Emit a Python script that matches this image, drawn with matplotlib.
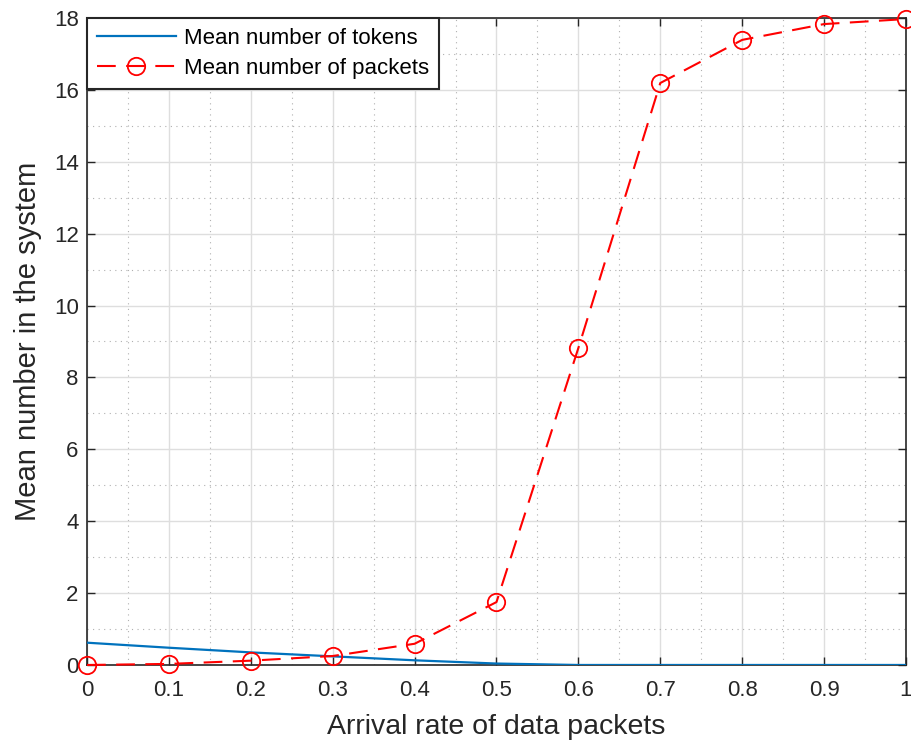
import matplotlib
matplotlib.use("Agg")
import matplotlib.pyplot as plt
from matplotlib.ticker import MultipleLocator

plt.rcParams['font.family'] = ['Liberation Sans', 'DejaVu Sans']

arrival_rate = [0.0, 0.1, 0.2, 0.3, 0.4, 0.5, 0.6, 0.7, 0.8, 0.9, 1.0]
mean_tokens = [0.62, 0.48, 0.35, 0.24, 0.13, 0.04, 0.0, 0.0, 0.0, 0.0, 0.0]
mean_packets = [0.0, 0.03, 0.12, 0.25, 0.59, 1.75, 8.82, 16.19, 17.39, 17.83, 17.97]

x_ticks = [0, 0.1, 0.2, 0.3, 0.4, 0.5, 0.6, 0.7, 0.8, 0.9, 1]
x_tick_labels = ['0', '0.1', '0.2', '0.3', '0.4', '0.5', '0.6', '0.7', '0.8', '0.9', '1']
y_ticks = [0, 2, 4, 6, 8, 10, 12, 14, 16, 18]

fig = plt.figure(figsize=(9.12, 7.42), dpi=100)
ax = fig.add_axes([0.0954, 0.1038, 0.898, 0.872])

ax.plot(arrival_rate, mean_tokens, color='#0072BD', lw=1.6, label='Mean number of tokens', zorder=3)
ax.plot(arrival_rate, mean_packets, color='#FF0000', lw=1.5, ls=(0, (9, 5)), marker='o',
        markersize=12.5, markerfacecolor='none', markeredgecolor='#FF0000', markeredgewidth=1.3,
        label='Mean number of packets', zorder=4, clip_on=False)

ax.set_xlim(0, 1)
ax.set_ylim(0, 18)
ax.set_xticks(x_ticks)
ax.set_xticklabels(x_tick_labels)
ax.set_yticks(y_ticks)
ax.xaxis.set_minor_locator(MultipleLocator(0.05))
ax.yaxis.set_minor_locator(MultipleLocator(1))

ax.grid(True, which='major', color='#dedede', lw=1.0, ls='-')
ax.grid(True, which='minor', color='#b0b0b0', lw=0.8, ls=(0, (1, 4)))
ax.set_axisbelow(True)

ax.tick_params(which='both', direction='in', top=True, right=True, colors='#262626',
               labelsize=16, length=6, width=1, pad=6)
ax.tick_params(axis='x', pad=11)
ax.tick_params(which='minor', length=0)
for s in ax.spines.values():
    s.set_color('#262626')
    s.set_linewidth(1.2)

ax.set_xlabel('Arrival rate of data packets', fontsize=20.5, color='#262626')
ax.set_ylabel('Mean number in the system', fontsize=21, color='#262626')
ax.xaxis.set_label_coords(0.5, -0.096)
ax.xaxis.label.set_va('center')
ax.yaxis.set_label_coords(-0.0725, 0.5)
ax.yaxis.label.set_va('center')

leg = ax.legend(loc='upper left', fontsize=16, frameon=True, fancybox=False,
                borderaxespad=0.0, handlelength=3.55, handletextpad=0.35, labelspacing=0.4,
                borderpad=0.45, edgecolor='#262626', framealpha=1)
leg.get_frame().set_linewidth(1.5)

fig.savefig('out.png', dpi=100)
